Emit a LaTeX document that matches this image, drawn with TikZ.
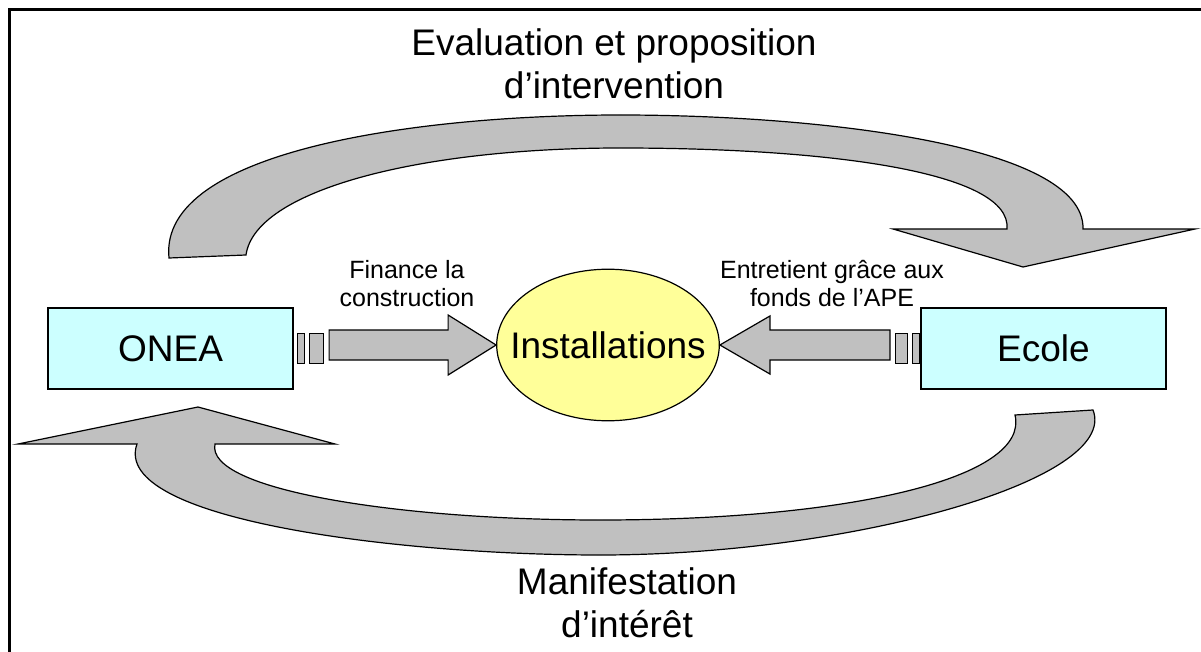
\documentclass[tikz,border=0pt]{standalone}
\usepackage{fontspec}
\setmainfont{Liberation Sans}
\usetikzlibrary{shapes.geometric,calc}

\definecolor{boxcyan}{HTML}{CCFFFF}
\definecolor{ellyellow}{HTML}{FFFF99}
\definecolor{arrowgray}{HTML}{C0C0C0}

\tikzset{
  actor/.style={draw, line width=1.6pt, fill=boxcyan, rectangle,
    minimum width=245pt, minimum height=81pt, inner sep=0pt,
    font=\fontsize{37}{43}\selectfont},
  target/.style={draw, line width=1.2pt, fill=ellyellow, ellipse,
    inner xsep=-19pt, inner ysep=40pt,
    font=\fontsize{37}{43}\selectfont},
  biglabel/.style={align=center, font=\fontsize{37}{43}\selectfont},
  smalllabel/.style={align=center, font=\fontsize{25}{28}\selectfont},
  blockarrow/.style={draw, line width=1.2pt, fill=arrowgray, line join=miter}
}

\begin{document}
\begin{tikzpicture}[x=1pt,y=-1pt]
\useasboundingbox (0,0) rectangle (1201,652);
\draw[line width=3pt] (9,652) -- (9,10) -- (1201,10);

\node[actor] (onea) at (170.5,348.5) {ONEA};
\node[actor] (ecole) at (1043.5,348.5) {Ecole};
\node[target] (inst) at (608,345) {Installations};

\node[biglabel] (eval) at (614,64) {Evaluation et proposition\\d’intervention};
\node[biglabel] (manif) at (627,603) {Manifestation\\d’intérêt};
\node[smalllabel] (finance) at (407,284) {Finance la\\construction};
\node[smalllabel] (entretient) at (832,284) {Entretient grâce aux\\fonds de l’APE};

% straight arrows
\draw[blockarrow] ($(onea.east)+(4,-15)$) rectangle ++(7,30);
\draw[blockarrow] ($(onea.east)+(16,-15)$) rectangle ++(14,30);
\draw[blockarrow] (inst.west) -- ++(-48,-30) -- ++(0,15) -- ++(-119,0)
  -- ++(0,30) -- ++(119,0) -- ++(0,15) -- cycle;
\draw[blockarrow] ($(ecole.west)+(-8,-15)$) rectangle ++(7,30);
\draw[blockarrow] ($(ecole.west)+(-25,-15)$) rectangle ++(12,30);
\draw[blockarrow] (inst.east) -- ++(50,-29) -- ++(0,14) -- ++(120,0)
  -- ++(0,30) -- ++(-120,0) -- ++(0,14) -- cycle;

% curved arrows
\draw[blockarrow] (169,258) .. controls (158,150) and (420,115) .. (620,115)
  .. controls (820,115) and (1085,145) .. (1083,229)
  -- (1195,229) -- (1023,267) -- (893,229) -- (1007,229)
  .. controls (1012,172) and (830,148) .. (620,148)
  .. controls (420,148) and (255,190) .. (246,255) -- cycle;
\draw[blockarrow] (1093,410) .. controls (1120,480) and (850,555) .. (600,555)
  .. controls (400,555) and (110,520) .. (137,444)
  -- (18,444) -- (198,407) -- (335,444) -- (215,444)
  .. controls (205,490) and (400,520) .. (600,520)
  .. controls (850,520) and (1030,478) .. (1015,415) -- cycle;
\end{tikzpicture}
\end{document}
